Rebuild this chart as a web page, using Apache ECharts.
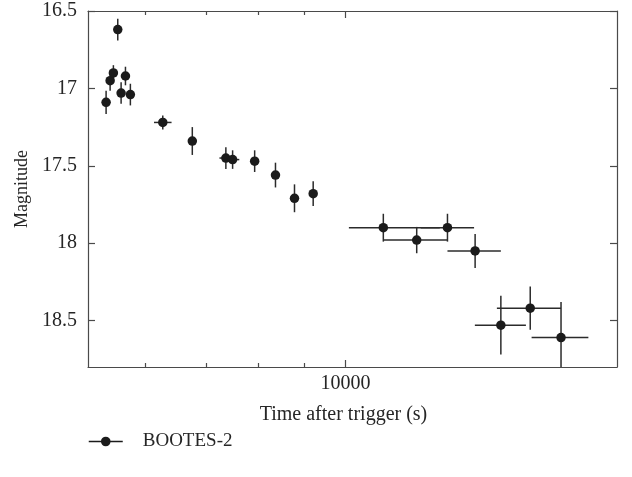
<!DOCTYPE html>
<html>
<head>
<meta charset="utf-8">
<script src="https://cdn.jsdelivr.net/npm/echarts@6/dist/echarts.min.js"></script>
<style>
html,body{margin:0;padding:0;background:#fff;}
#chart{width:632px;height:477px;}
</style>
</head>
<body>
<div id="chart"></div>
<script>
// Data
var seriesName = 'BOOTES-2';
var times   = [5425, 5481, 5527, 5589, 5637, 5700, 5772, 6270, 6761, 7366, 7494, 7928, 8361, 8777, 9206, 11012, 11992, 12972, 13921, 14867, 16025, 17336];
var mags    = [17.09, 16.95, 16.90, 16.62, 17.03, 16.92, 17.04, 17.22, 17.34, 17.45, 17.46, 17.47, 17.56, 17.71, 17.68, 17.90, 17.98, 17.90, 18.05, 18.53, 18.42, 18.61];
var magErr  = [0.075, 0.065, 0.05, 0.07, 0.07, 0.06, 0.07, 0.045, 0.09, 0.07, 0.06, 0.07, 0.08, 0.09, 0.08, 0.09, 0.085, 0.09, 0.11, 0.19, 0.14, 0.23];
var timeLo  = [null, null, null, null, null, null, null, 6131, null, 7246, 7367, null, null, null, null, 10085, 11012, 12115, 12972, 13912, 14717, 16081];
var timeHi  = [null, null, null, null, null, null, null, 6412, null, 7487, 7623, null, null, null, null, 12720, 12972, 13884, 14867, 15849, 17336, 18590];
var xMinorTicks = [6000, 7000, 8000, 9000];
var xMajorTicks = [10000];
var yTicks = [16.5, 17, 17.5, 18, 18.5];

var FONT = '"Liberation Serif", "DejaVu Serif", serif';
var TXT = '#262626';
var AX = '#4a4a4a';

var points = times.map(function (t, i) { return [t, mags[i]]; });
var errData = times.map(function (t, i) { return [t, mags[i], magErr[i], timeLo[i], timeHi[i]]; });

function xAxisDef(pos, ticks, len, showLabel, showLine) {
  return {
    type: 'log', logBase: 10, position: pos, min: 5180, max: 20000,
    gridIndex: 0,
    axisLine: {show: showLine, onZero: false, lineStyle: {color: AX, width: 1.2}},
    axisTick: {show: true, inside: true, length: len, customValues: ticks, lineStyle: {color: AX, width: 1.2}},
    axisLabel: {show: showLabel, customValues: xMajorTicks, margin: 7, fontFamily: FONT, fontSize: 20, color: TXT,
      formatter: function (v) { return String(Math.round(v)); }},
    splitLine: {show: false},
    minorTick: {show: false}
  };
}

function yAxisDef(pos, showLabel) {
  return {
    type: 'value', inverse: true, position: pos, min: 16.5, max: 18.8, interval: 0.5,
    name: showLabel ? 'Magnitude' : '', nameLocation: 'middle', nameGap: 57, nameRotate: 90,
    nameTextStyle: {fontFamily: FONT, fontSize: 18, color: TXT},
    axisLine: {show: true, lineStyle: {color: AX, width: 1.2}},
    axisTick: {show: true, inside: true, length: 7, customValues: yTicks, lineStyle: {color: AX, width: 1.2}},
    axisLabel: {show: showLabel, customValues: yTicks, margin: 11, fontFamily: FONT, fontSize: 20, color: TXT,
      formatter: function (v) { return String(v); }},
    splitLine: {show: false}
  };
}

var chart = echarts.init(document.getElementById('chart'), null, {renderer: 'canvas'});
var xMain = xAxisDef('bottom', xMinorTicks, 4, true, true);
xMain.name = 'Time after trigger (s)';
xMain.nameLocation = 'middle';
xMain.nameGap = 38;
xMain.nameTextStyle = {fontFamily: FONT, fontSize: 20, color: TXT, padding: [0, 18, 0, 0]};

var option = {
  animation: false,
  backgroundColor: '#fff',
  grid: {left: 88, right: 15, top: 11, bottom: 110, containLabel: false},
  legend: {
    left: 83, top: 427,
    itemWidth: 34, itemHeight: 12, itemGap: 20,
    textStyle: {fontFamily: FONT, fontSize: 19, color: TXT, padding: [0, 0, 0, 15]},
    lineStyle: {width: 1.5, color: '#1b1b1b', opacity: 1},
    itemStyle: {color: '#1b1b1b'},
    data: [seriesName]
  },
  xAxis: [
    xMain,
    xAxisDef('bottom', xMajorTicks, 7, false, false),
    xAxisDef('top', xMinorTicks, 4, false, true),
    xAxisDef('top', xMajorTicks, 7, false, false)
  ],
  yAxis: [yAxisDef('left', true), yAxisDef('right', false)],
  series: [
    {
      type: 'custom',
      name: 'errors',
      xAxisIndex: 0, yAxisIndex: 0,
      silent: true,
      data: errData,
      renderItem: function (params, api) {
        var cs = params.coordSys;
        var t = api.value(0), m = api.value(1), e = api.value(2);
        var lo = api.value(3), hi = api.value(4);
        var c = api.coord([t, m]);
        var top = api.coord([t, m - e]);
        var bot = api.coord([t, m + e]);
        var y1 = Math.max(cs.y, Math.min(top[1], bot[1]));
        var y2 = Math.min(cs.y + cs.height, Math.max(top[1], bot[1]));
        var style = {stroke: '#2b2b2b', lineWidth: 1.5};
        var children = [{type: 'line', shape: {x1: c[0], y1: y1, x2: c[0], y2: y2}, style: style}];
        if (lo != null && !isNaN(lo) && hi != null && !isNaN(hi)) {
          var l = api.coord([lo, m]), h = api.coord([hi, m]);
          children.push({type: 'line', shape: {x1: l[0], y1: c[1], x2: h[0], y2: c[1]}, style: style});
        }
        return {type: 'group', children: children};
      },
      z: 2
    },
    {
      type: 'line',
      name: seriesName,
      xAxisIndex: 0, yAxisIndex: 0,
      data: points,
      symbol: 'circle', symbolSize: 9.5,
      showSymbol: true,
      itemStyle: {color: '#1b1b1b'},
      lineStyle: {width: 0, opacity: 0},
      z: 3
    }
  ]
};
chart.setOption(option);
</script>
</body>
</html>
